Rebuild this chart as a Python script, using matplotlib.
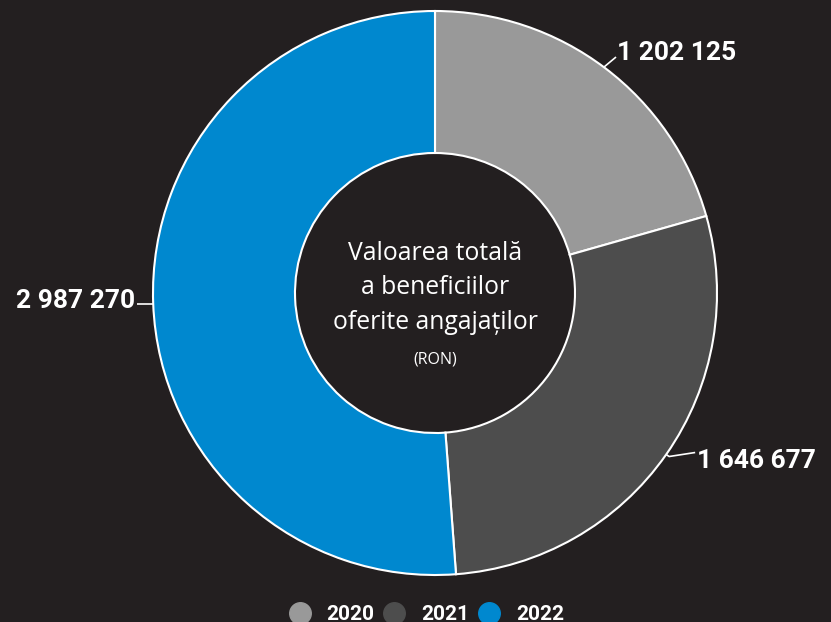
import matplotlib.pyplot as plt
from matplotlib.lines import Line2D
import numpy as np

years = ["2020", "2021", "2022"]
values = [1202125, 1646677, 2987270]
labels = ["1 202 125", "1 646 677", "2 987 270"]
colors = ["#999999", "#4d4d4d", "#0088cf"]
bg = "#231f20"

W, H = 831, 622
fig = plt.figure(figsize=(W / 100, H / 100), dpi=100, facecolor=bg)
ax = fig.add_axes([0, 0, 1, 1])
ax.set_facecolor(bg)

cx, cy, R = 435, H - 293, 282
wedges, _ = ax.pie(values, colors=colors, startangle=90, counterclock=False,
                   center=(cx, cy), radius=R, frame=True,
                   wedgeprops=dict(width=R - 140, edgecolor="white", linewidth=1.5))
ax.set_xlim(0, W)
ax.set_ylim(0, H)
ax.set_aspect("equal")
ax.axis("off")

# leader lines + value labels
for w, lab in zip(wedges, labels):
    mid = np.deg2rad((w.theta1 + w.theta2) / 2)
    x0, y0 = cx + R * np.cos(mid), cy + R * np.sin(mid)
    if np.cos(mid) < -0.5:
        pts = [(x0, y0), (x0 - 16, y0)]
        tx, ty, ha = x0 - 18, y0 + 3, "right"
    elif np.sin(mid) > 0:
        pts = [(x0 - 1, y0 + 1), (x0 + 11, y0 + 11)]
        tx, ty, ha = x0 + 12, y0 + 15, "left"
    else:
        pts = [(x0, y0), (x0 + 3, y0 - 2), (x0 + 29, y0 + 2)]
        tx, ty, ha = x0 + 31, y0 - 6, "left"
    ax.plot(*zip(*pts), color="white", lw=1.2, solid_capstyle="butt")
    ax.text(tx, ty, lab, ha=ha, va="center", color="white",
            fontsize=19, fontweight="bold", family="Roboto")

# centre caption
ax.text(cx, H - 288, "Valoarea totală\na beneficiilor\noferite angajaților",
        ha="center", va="center", color="white", fontsize=17.8,
        family="Open Sans", linespacing=1.5)
ax.text(cx, H - 360, "(RON)", ha="center", va="center", color="white",
        fontsize=11.5, family="Open Sans")

handles = [Line2D([], [], marker="o", ls="", markersize=15.5, markerfacecolor=c,
                  markeredgecolor=c) for c in colors]
leg = fig.legend(handles, years, loc="center", bbox_to_anchor=(0.511, 0.012),
                 ncol=3, frameon=False, handletextpad=0.6, columnspacing=0.25,
                 handlelength=1.4,
                 prop=dict(family="Roboto", weight="bold", size=15))
for t in leg.get_texts():
    t.set_color("white")

fig.savefig("out.png", dpi=100, facecolor=bg)
